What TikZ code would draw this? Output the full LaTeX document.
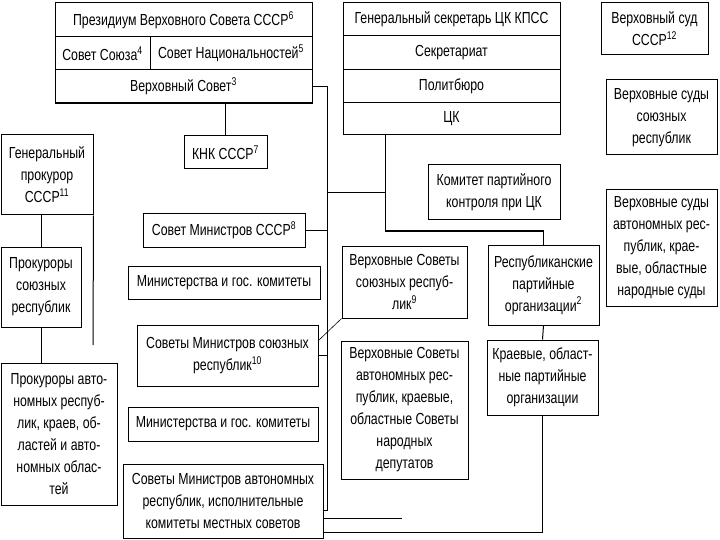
\documentclass[tikz,border=0pt]{standalone}
\usepackage{fontspec}
\setmainfont{Liberation Sans}[FakeStretch=0.77]

\begin{document}
\begin{tikzpicture}[x=1pt,y=-1pt,
    box/.style={draw, line width=1pt, inner sep=0pt, align=center, font=\fontsize{16}{22}\selectfont},
    conn/.style={line width=1pt},
    mainconn/.style={line width=1.8pt}]
  \useasboundingbox (0,0) rectangle (720,540);
  % Верховный Совет
  \node[box, minimum width=257, minimum height=34] (prez) at (183.5,20) {Президиум Верховного Совета СССР\textsuperscript{6}};
  \node[box, minimum width=95, minimum height=33] (soyuz) at (102.5,53.5) {Совет Союза\textsuperscript{4}};
  \node[box, minimum width=162, minimum height=33] (nats) at (231,53.5) {Совет Национальностей\textsuperscript{5}};
  \node[box, minimum width=257, minimum height=33] (vs) at (183.5,86.5) {Верховный Совет\textsuperscript{3}};
  \draw[mainconn] (vs.south west) -- (vs.south east);
  % КПСС
  \node[box, minimum width=217, minimum height=33] (gensek) at (451.5,19.5) {Генеральный секретарь ЦК КПСС};
  \node[box, minimum width=217, minimum height=34] (secr) at (451.5,53) {Секретариат};
  \node[box, minimum width=217, minimum height=33] (polit) at (451.5,86.5) {Политбюро};
  \node[box, minimum width=217, minimum height=32] (ck) at (451.5,119) {ЦК};
  \draw[mainconn] (ck.north west) -- (ck.north east);
  % суды
  \node[box, minimum width=107, minimum height=52] (vsud) at (654.5,29) {Верховный суд\\СССР\textsuperscript{12}};
  \node[box, minimum width=111, minimum height=75] (sudsoyuz) at (661.5,117.5) {Верховные суды\\союзных\\республик};
  \node[box, minimum width=111, minimum height=116] (sudavt) at (661.5,248) {Верховные суды\\автономных рес-\\публик, крае-\\вые, областные\\народные суды};
  % прокуратура
  \node[box, minimum width=92, minimum height=80] (genprok) at (47,175) {Генеральный\\прокурор\\СССР\textsuperscript{11}};
  \node[box, minimum width=80, minimum height=80] (proksoyuz) at (41,287) {Прокуроры\\союзных\\республик};
  \node[box, minimum width=116, minimum height=142] (prokavt) at (59,434) {Прокуроры авто-\\номных респуб-\\лик, краев, об-\\ластей и авто-\\номных облас-\\тей};
  \draw[mainconn] (prokavt.south west) -- (prokavt.south east);
  % правительство
  \node[box, minimum width=83, minimum height=33] (knk) at (225.5,152.5) {КНК СССР\textsuperscript{7}};
  \node[box, minimum width=162, minimum height=33] (sovmin) at (224,230.5) {Совет Министров СССР\textsuperscript{8}};
  \node[box, minimum width=192, minimum height=33] (min1) at (224,282.5) {Министерства и гос. комитеты};
  \node[box, minimum width=181, minimum height=61] (smsoyuz) at (227.5,355.5) {Советы Министров союзных\\республик\textsuperscript{10}};
  \node[box, minimum width=190, minimum height=34] (min2) at (223,424) {Министерства и гос. комитеты};
  \node[box, minimum width=200, minimum height=74] (smavt) at (223,501) {Советы Министров автономных\\республик, исполнительные\\комитеты местных советов};
  % советы и партийные организации
  \node[box, minimum width=132, minimum height=55] (kpk) at (494,192.5) {Комитет партийного\\контроля при ЦК};
  \node[box, minimum width=125, minimum height=72] (vssoyuz) at (404.5,282) {Верховные Советы\\союзных респуб-\\лик\textsuperscript{9}};
  \node[box, minimum width=111, minimum height=80] (resp) at (543.5,285) {Республиканские\\партийные\\организации\textsuperscript{2}};
  \node[box, minimum width=127, minimum height=138] (vsavt) at (404.5,410) {Верховные Советы\\автономных рес-\\публик, краевые,\\областные Советы\\народных\\депутатов};
  \draw[mainconn] (vsavt.south west) -- (vsavt.south east);
  \node[box, minimum width=111, minimum height=75] (kraev) at (542.5,377.5) {Краевые, област-\\ные партийные\\организации};

  % connectors
  \coordinate (trunk) at (327,510);
  \coordinate (party) at (385,231);
  \coordinate (prokend) at (93,345);
  \coordinate (freeend) at (402,518);
  \draw[conn] (vs.east) -| (trunk) -- (smavt.east |- trunk);
  \draw[conn] (knk.north) -- (knk.north |- vs.south);
  \draw[mainconn] (sovmin.east) -- (sovmin.east -| trunk);
  \draw[conn] (smsoyuz.east) -- (smsoyuz.east -| trunk);
  \draw[line width=0.6pt] ([yshift=15pt]smsoyuz.east) -- (vssoyuz.south west);
  \draw[conn] (party |- ck.south) -- (party);
  \draw[mainconn] (party) -| (resp.north);
  \draw[conn] (trunk |- kpk.center) -- (party |- kpk.center);
  \draw[conn] (resp.south) -- (kraev.north);
  \draw[conn] (kraev.south) |- ([yshift=-31pt]smavt.east);
  \draw[conn] (smavt.east |- freeend) -- (freeend);
  \draw[conn] (genprok.south -| proksoyuz) -- (proksoyuz.north);
  \draw[conn] (proksoyuz.south) -- (proksoyuz.south |- prokavt.north);
  \draw[conn] (genprok.south east) -- (prokend);
\end{tikzpicture}
\end{document}
